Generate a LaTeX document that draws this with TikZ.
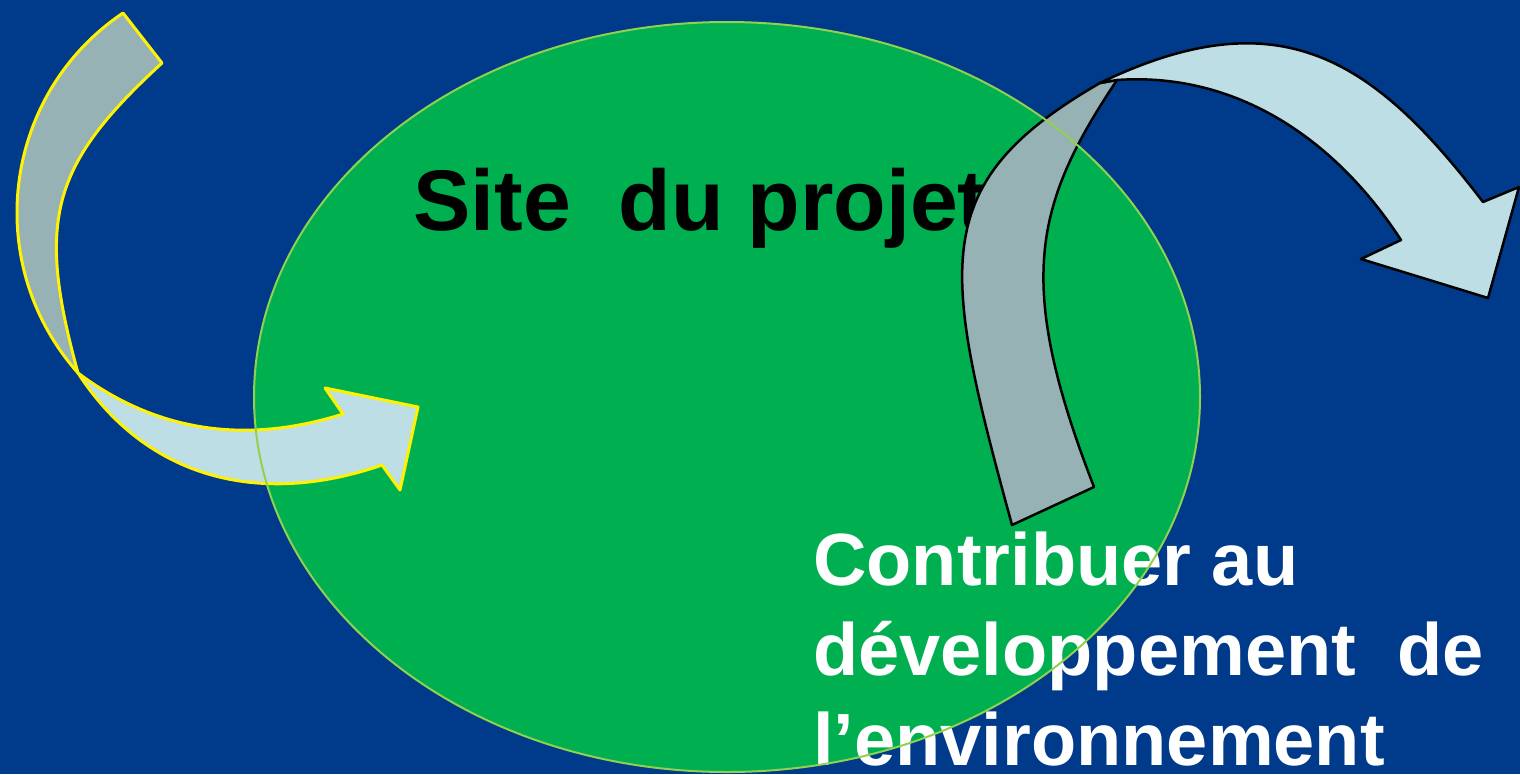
\documentclass[tikz,border=0pt]{standalone}
\usepackage{fontspec}
\setmainfont{Liberation Sans}
\definecolor{bgblue}{RGB}{0,58,138}
\definecolor{ovalgreen}{RGB}{0,176,80}
\definecolor{ovalline}{RGB}{146,208,80}
\definecolor{arrowdark}{RGB}{150,178,180}
\definecolor{arrowlight}{RGB}{188,222,228}
\begin{document}
\begin{tikzpicture}[x=1pt,y=-1pt,
  yellowedge/.style={draw=yellow,line width=3pt,line join=round},
  blackedge/.style={draw=black,line width=2.5pt,line join=round},
  bigtitle/.style={font=\bfseries\fontsize{86}{100}\selectfont,text=black,inner sep=0pt,anchor=base west},
  whitetext/.style={font=\bfseries\fontsize{74}{90}\selectfont,text=white,inner sep=0pt,anchor=base west,align=left}]
\useasboundingbox (0,0) rectangle (1520,774);
\fill[bgblue] (0,0) rectangle (1520,774);
% oval
\fill[ovalgreen] (727,397) ellipse [x radius=473, y radius=375];
\node[bigtitle] (site) at (413,230) {Site\ \ du projet};
% left arrow: back (dark) part
\path[fill=arrowdark,yellowedge] (123,13) -- (162,63)
  .. controls (51.6,164.6) and (35.6,218.8) .. (78,373)
  .. controls (-18.8,263.9) and (2.1,94.5) .. (123,13) -- cycle;
% left arrow: front (light) part
\path[fill=arrowlight,yellowedge] (78,373)
  .. controls (158,433) and (247.7,444.2) .. (343,414)
  -- (325,388) -- (418,407) -- (400,490) -- (382,465)
  .. controls (259,507.6) and (145.9,478) .. (78,373) -- cycle;
% right arrow: back (dark) part
\path[fill=arrowdark,blackedge] (1012,525) -- (1094,487)
  .. controls (1014.4,282) and (1033.8,204.8) .. (1117,80)
  -- (1100,83)
  .. controls (926.8,183) and (940.7,264.7) .. (1012,525) -- cycle;
% right arrow: front (light) part
\path[fill=arrowlight,blackedge] (1100,83)
  .. controls (1280,-3.8) and (1373.7,58.9) .. (1483,202)
  -- (1519,187) -- (1488,298) -- (1361,259) -- (1401,240)
  .. controls (1335.5,139.4) and (1236.6,71.6) .. (1117,80) -- cycle;
\node[whitetext] (goal) at (813,765) {Contribuer au\\d\'eveloppement\ \ de\\l’environnement};
\draw[ovalline,line width=2pt] (727,397) ellipse [x radius=473, y radius=375];
\end{tikzpicture}
\end{document}
